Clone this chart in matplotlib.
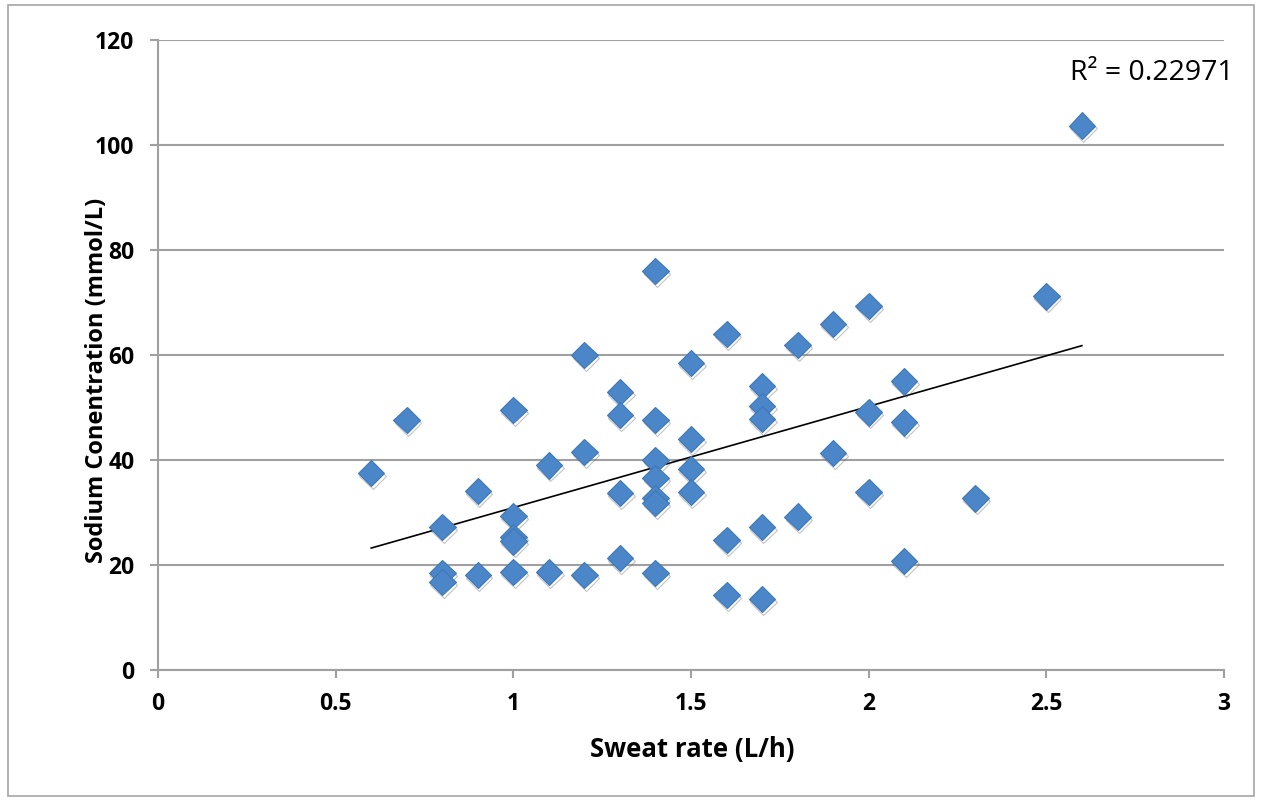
from matplotlib import pyplot as plt
from matplotlib import patheffects as pe
from matplotlib.patches import Rectangle
import numpy as np

# sweat rate (L/h) and sodium concentration (mmol/L)
sweat_rate = [0.6, 0.7,
              0.8, 0.8, 0.8,
              0.9, 0.9,
              1.0, 1.0, 1.0, 1.0, 1.0,
              1.1, 1.1,
              1.2, 1.2, 1.2,
              1.3, 1.3, 1.3, 1.3,
              1.4, 1.4, 1.4, 1.4, 1.4, 1.4, 1.4,
              1.5, 1.5, 1.5, 1.5,
              1.6, 1.6, 1.6,
              1.7, 1.7, 1.7, 1.7, 1.7,
              1.8, 1.8,
              1.9, 1.9,
              2.0, 2.0, 2.0,
              2.1, 2.1, 2.1,
              2.3, 2.5, 2.6]
sodium = [37.5, 47.6,
          27.2, 18.5, 16.8,
          34.1, 18.1,
          49.5, 29.3, 25.3, 24.5, 18.7,
          39.0, 18.7,
          60.0, 41.5, 18.1,
          53.0, 48.6, 33.7, 21.3,
          76.0, 47.6, 40.0, 36.6, 32.8, 31.8, 18.5,
          58.5, 44.0, 38.3, 33.9,
          64.0, 24.8, 14.3,
          54.1, 50.3, 47.8, 27.2, 13.5,
          61.9, 29.2,
          65.9, 41.3,
          69.3, 49.1, 33.9,
          55.0, 47.2, 20.8,
          32.7, 71.2, 103.7]

x_ticks = [0, 0.5, 1, 1.5, 2, 2.5, 3]
x_labels = ['0', '0.5', '1', '1.5', '2', '2.5', '3']
y_ticks = [0, 20, 40, 60, 80, 100, 120]
r2_text = 'R² = 0.22971'

plt.rcParams['font.family'] = ['Open Sans', 'DejaVu Sans']

fig = plt.figure(figsize=(12.62, 8.01), dpi=100)
fig.patches.append(Rectangle((0.006, 0.006), 0.988, 0.988, transform=fig.transFigure,
                             fill=False, edgecolor='#a6a6a6', linewidth=1.2))
ax = fig.add_axes([0.1252, 0.1635, 0.8447, 0.7865])

grid_col = '#a0a0a0'
ax.set_xlim(0, 3)
ax.set_ylim(0, 120)
ax.set_yticks(y_ticks)
ax.set_xticks(x_ticks)
ax.set_xticklabels(x_labels)
ax.yaxis.grid(True, color=grid_col, linewidth=1.5)
ax.set_axisbelow(True)
for s in ['top', 'right']:
    ax.spines[s].set_visible(False)
for s in ['left', 'bottom']:
    ax.spines[s].set_color(grid_col)
    ax.spines[s].set_linewidth(1.5)
ax.tick_params(axis='both', length=6, width=1.5, color=grid_col, labelsize=16.5)
ax.tick_params(axis='x', pad=10)
ax.tick_params(axis='y', pad=11)
for lab in ax.get_xticklabels() + ax.get_yticklabels():
    lab.set_fontweight('bold')

# linear trend line
coef = np.polyfit(sweat_rate, sodium, 1)
xl = np.array([min(sweat_rate), max(sweat_rate)])
ax.plot(xl, np.polyval(coef, xl), color='black', linewidth=1.2, zorder=2)

ax.plot(sweat_rate, sodium, linestyle='none', marker='D', markersize=13.5,
        markerfacecolor='#4a86c8', markeredgecolor='#3f78b8', markeredgewidth=0.8,
        zorder=3,
        path_effects=[pe.SimpleLineShadow(offset=(1, -2), alpha=0.35, shadow_color='#555555'),
                      pe.Normal()])

ax.text(2.567, 113.7, r2_text, fontsize=20.5, va='center', ha='left')

ax.set_xlabel('Sweat rate (L/h)', fontsize=18.5, fontweight='bold')
ax.set_ylabel('Sodium Conentration (mmol/L)', fontsize=17, fontweight='bold')
ax.xaxis.set_label_coords(0.501, -0.105)
ax.yaxis.set_label_coords(-0.046, 0.46)

plt.savefig('out.png', dpi=100)
